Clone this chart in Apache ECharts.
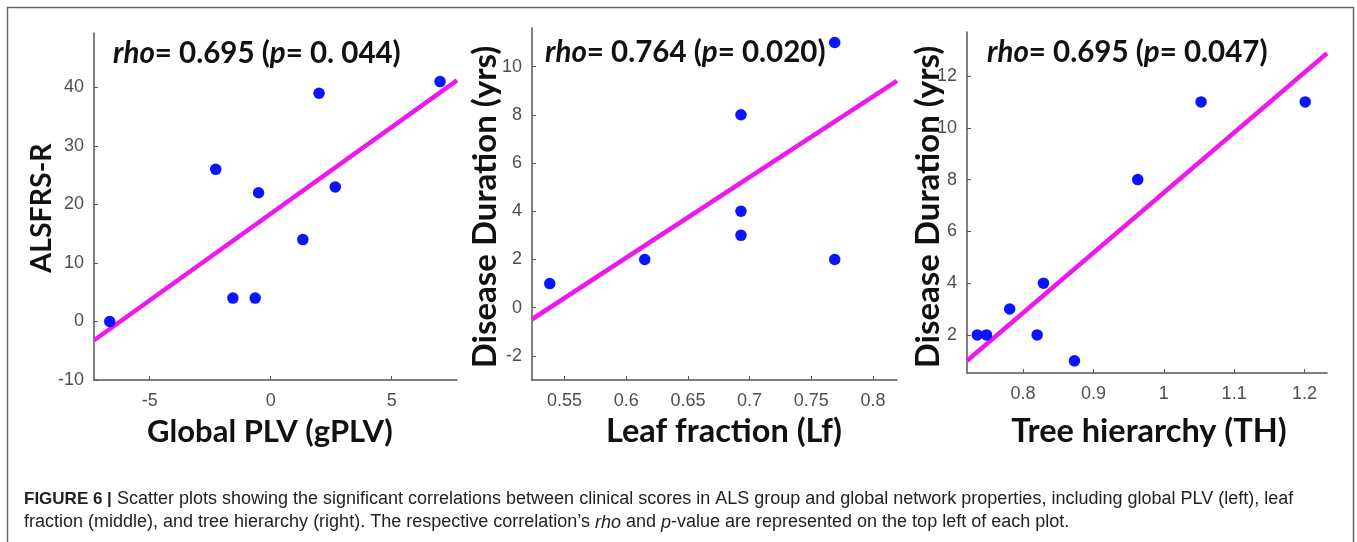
<!DOCTYPE html>
<html>
<head>
<meta charset="utf-8">
<script src="https://cdn.jsdelivr.net/npm/echarts@6/dist/echarts.min.js"></script>
<style>html,body{margin:0;padding:0;background:#fff;}#c{width:1357px;height:542px;}</style>
</head>
<body>
<div id="c"></div>
<script>
// ---- data ----
const p1X = [-6.65, -2.27, -1.56, -0.64, -0.50, 1.33, 2.00, 2.67, 7.00];
const p1Y = [0, 26, 4, 4, 22, 14, 39, 23, 41];
const fit1X = [-7.3, 7.7];
const fit1Y = [-3.2, 41.2];
const p1XTicks = [-5, 0, 5];
const p1YTicks = [-10, 0, 10, 20, 30, 40];

const p2X = [0.538, 0.615, 0.693, 0.693, 0.693, 0.769, 0.769];
const p2Y = [1, 2, 8, 4, 3, 2, 11];
const fit2X = [0.5236, 0.8195];
const fit2Y = [-0.48, 9.41];
const p2XTicks = [0.55, 0.6, 0.65, 0.7, 0.75, 0.8];
const p2YTicks = [-2, 0, 2, 4, 6, 8, 10];

const p3X = [0.735, 0.748, 0.781, 0.820, 0.829, 0.873, 0.963, 1.053, 1.201];
const p3Y = [2, 2, 3, 2, 4, 1, 8, 11, 11];
const fit3X = [0.7203, 1.232];
const fit3Y = [1.0, 12.88];
const p3XTicks = [0.8, 0.9, 1, 1.1, 1.2];
const p3YTicks = [2, 4, 6, 8, 10, 12];

const panelTitles = [
  ['0.695', '0. 044'],
  ['0.764', '0.020'],
  ['0.695', '0.047']
];
const xTitles = ['Global PLV (gPLV)', 'Leaf fraction (Lf)', 'Tree hierarchy (TH)'];
const yTitles = ['ALSFRS-R', 'Disease Duration (yrs)', 'Disease Duration (yrs)'];
const captionLine1 = 'Scatter plots showing the significant correlations between clinical scores in ALS group and global network properties, including global PLV (left), leaf';
const captionLine2a = 'fraction (middle), and tree hierarchy (right). The respective correlation\u2019s ';
const captionLine2b = ' and ';
const captionLine2c = '-value are represented on the top left of each plot.';

// ---- layout ----
const grids = [
  {left: 94, top: 33, width: 363, height: 347},
  {left: 532, top: 28, width: 365, height: 352},
  {left: 967, top: 32, width: 360, height: 341}
];
const ranges = [
  {x: [-7.3, 7.7], y: [-10, 49.3]},
  {x: [0.5236, 0.8195], y: [-3, 11.6]},
  {x: [0.7203, 1.232], y: [0.53, 13.7]}
];
const xt = [p1XTicks, p2XTicks, p3XTicks];
const yt = [p1YTicks, p2YTicks, p3YTicks];
const pts = [[p1X, p1Y], [p2X, p2Y], [p3X, p3Y]];
const fits = [[fit1X, fit1Y], [fit2X, fit2Y], [fit3X, fit3Y]];

const axisColor = '#555';
const labelColor = '#4f4f4f';
const titleFont = 'Lato';

function zip(a, b) { return a.map((v, i) => [v, b[i]]); }

const xAxis = [], yAxis = [], series = [];
for (let i = 0; i < 3; i++) {
  xAxis.push({
    type: 'value', gridIndex: i, min: ranges[i].x[0], max: ranges[i].x[1],
    splitLine: {show: false},
    axisLine: {show: true, onZero: false, lineStyle: {color: axisColor, width: 1.5}},
    axisTick: {show: true, inside: true, length: 4, customValues: xt[i], lineStyle: {color: axisColor}},
    axisLabel: {customValues: xt[i], color: labelColor, fontSize: 18, fontFamily: 'Liberation Sans', margin: 12}
  });
  yAxis.push({
    type: 'value', gridIndex: i, min: ranges[i].y[0], max: ranges[i].y[1],
    splitLine: {show: false},
    axisLine: {show: true, onZero: false, lineStyle: {color: axisColor, width: 1.5}},
    axisTick: {show: true, inside: true, length: 4, customValues: yt[i], lineStyle: {color: axisColor}},
    axisLabel: {customValues: yt[i], color: labelColor, fontSize: 18, fontFamily: 'Liberation Sans', margin: 10}
  });
  series.push({
    type: 'line', xAxisIndex: i, yAxisIndex: i, data: zip(fits[i][0], fits[i][1]),
    showSymbol: false, symbol: 'none', clip: true, silent: true,
    lineStyle: {color: '#ee18ee', width: 4.5}, z: 2
  });
  series.push({
    type: 'scatter', xAxisIndex: i, yAxisIndex: i, data: zip(pts[i][0], pts[i][1]),
    symbolSize: 11.5, itemStyle: {color: '#0a14ff', opacity: 1}, z: 3
  });
}

const titlePos = [[113, 53], [545, 52], [987, 52]];
const xTitlePos = [[270, 432], [724, 432], [1149, 432]];
const yTitlePos = [[42, 208], [485, 207], [928, 207]];
const xTitleSize = [31, 32.5, 32.5];
const yTitleSize = [28.5, 33, 33];

const graphic = [
  {type: 'rect', shape: {x: 7.5, y: 7.5, width: 1346, height: 560}, style: {fill: 'none', stroke: '#666', lineWidth: 1.5}, silent: true}
];
const richTitle = {
  i: {fontFamily: titleFont, fontWeight: 'bold', fontStyle: 'italic', fontSize: 29.5, fill: '#111'},
  b: {fontFamily: titleFont, fontWeight: 'bold', fontSize: 29.5, fill: '#111'}
};
for (let i = 0; i < 3; i++) {
  graphic.push({
    type: 'text', x: titlePos[i][0], y: titlePos[i][1], z: 10,
    style: {
      text: '{i|rho}{b|= ' + panelTitles[i][0] + ' (}{i|p}{b|= ' + panelTitles[i][1] + ')}',
      rich: richTitle, align: 'left', verticalAlign: 'middle'
    }
  });
  graphic.push({
    type: 'text', x: xTitlePos[i][0], y: xTitlePos[i][1], z: 10,
    style: {text: xTitles[i], font: 'bold ' + xTitleSize[i] + 'px ' + titleFont, fill: '#111', align: 'center', verticalAlign: 'middle'}
  });
  graphic.push({
    type: 'text', x: yTitlePos[i][0], y: yTitlePos[i][1], rotation: Math.PI / 2, z: 10,
    style: {text: yTitles[i], font: 'bold ' + yTitleSize[i] + 'px ' + titleFont, fill: '#111', align: 'center', verticalAlign: 'middle'}
  });
}
const capRich = {
  b: {fontFamily: 'Liberation Sans', fontWeight: 'bold', fontSize: 17, fill: '#222', lineHeight: 23},
  n: {fontFamily: 'Liberation Sans', fontSize: 18, fill: '#222', lineHeight: 23},
  i: {fontFamily: 'Liberation Sans', fontStyle: 'italic', fontSize: 18, fill: '#222', lineHeight: 23}
};
graphic.push({
  type: 'text', x: 24, y: 488, z: 10,
  style: {
    text: '{b|FIGURE 6 |}{n| ' + captionLine1 + '}\n{n|' + captionLine2a + '}{i|rho}{n|' + captionLine2b + '}{i|p}{n|' + captionLine2c + '}',
    rich: capRich, align: 'left', verticalAlign: 'top'
  }
});

const chart = echarts.init(document.getElementById('c'), null, {renderer: 'canvas'});
chart.setOption({
  backgroundColor: '#fff',
  animation: false,
  grid: grids.map(g => Object.assign({outerBoundsMode: 'none'}, g)),
  xAxis, yAxis, series, graphic
});
</script>
</body>
</html>
